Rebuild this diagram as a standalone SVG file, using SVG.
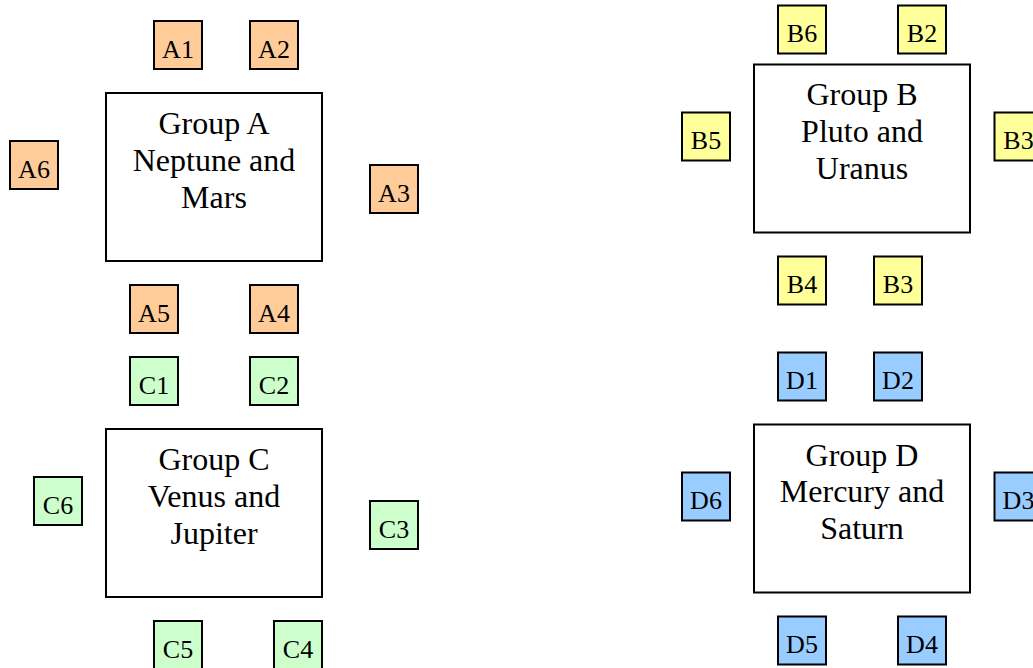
<svg xmlns="http://www.w3.org/2000/svg" width="1033" height="668" viewBox="0 0 1033 668">
<style>
  text { font-family: "Liberation Serif", "Times New Roman", serif; fill: #000; text-anchor: middle; }
  .grp { fill: #ffffff; stroke: #000; stroke-width: 2; }
  .seat { stroke: #000; stroke-width: 2; }
  .a { fill: #ffcc99; }
  .b { fill: #ffff99; }
  .c { fill: #ccffcc; }
  .d { fill: #99ccff; }
  .lbl { font-size: 26px; }
  .big { font-size: 32px; }
</style>
<rect width="1033" height="668" fill="#ffffff"/>
<g id="connectors"/>

<!-- Group A -->
<g id="groupA">
  <rect class="grp" x="106" y="93" width="216" height="168"/>
  <text class="big" x="214" y="134">Group A</text>
  <text class="big" x="214" y="170.5">Neptune and</text>
  <text class="big" x="214" y="207.5">Mars</text>
</g>
<g id="A1"><rect class="seat a" x="154" y="21" width="48" height="48"/><text class="lbl" x="178" y="57.5">A1</text></g>
<g id="A2"><rect class="seat a" x="250" y="21" width="48" height="48"/><text class="lbl" x="274" y="57.5">A2</text></g>
<g id="A3"><rect class="seat a" x="370" y="165" width="48" height="48"/><text class="lbl" x="394" y="201.5">A3</text></g>
<g id="A4"><rect class="seat a" x="250" y="285" width="48" height="48"/><text class="lbl" x="274" y="321.5">A4</text></g>
<g id="A5"><rect class="seat a" x="130" y="285" width="48" height="48"/><text class="lbl" x="154" y="321.5">A5</text></g>
<g id="A6"><rect class="seat a" x="10" y="141" width="48" height="48"/><text class="lbl" x="34" y="177.5">A6</text></g>

<!-- Group B -->
<g id="groupB">
  <rect class="grp" x="754" y="64.5" width="216" height="168"/>
  <text class="big" x="862" y="105">Group B</text>
  <text class="big" x="862" y="142">Pluto and</text>
  <text class="big" x="862" y="179">Uranus</text>
</g>
<g id="B6"><rect class="seat b" x="778" y="5.5" width="48" height="48"/><text class="lbl" x="802" y="42">B6</text></g>
<g id="B2"><rect class="seat b" x="898" y="5.5" width="48" height="48"/><text class="lbl" x="922" y="42">B2</text></g>
<g id="B5"><rect class="seat b" x="682" y="112.5" width="48" height="48"/><text class="lbl" x="706" y="149">B5</text></g>
<g id="B3a"><rect class="seat b" x="994.5" y="112.5" width="48" height="48"/><text class="lbl" x="1018.5" y="149">B3</text></g>
<g id="B4"><rect class="seat b" x="778" y="256.5" width="48" height="48"/><text class="lbl" x="802" y="293">B4</text></g>
<g id="B3b"><rect class="seat b" x="874" y="256.5" width="48" height="48"/><text class="lbl" x="898" y="293">B3</text></g>

<!-- Group C -->
<g id="groupC">
  <rect class="grp" x="106" y="429" width="216" height="168"/>
  <text class="big" x="214" y="470">Group C</text>
  <text class="big" x="214" y="506.5">Venus and</text>
  <text class="big" x="214" y="543.5">Jupiter</text>
</g>
<g id="C1"><rect class="seat c" x="130" y="357" width="48" height="48"/><text class="lbl" x="154" y="393.5">C1</text></g>
<g id="C2"><rect class="seat c" x="250" y="357" width="48" height="48"/><text class="lbl" x="274" y="393.5">C2</text></g>
<g id="C3"><rect class="seat c" x="370" y="501" width="48" height="48"/><text class="lbl" x="394" y="537.5">C3</text></g>
<g id="C4"><rect class="seat c" x="274" y="621" width="48" height="48"/><text class="lbl" x="298" y="657.5">C4</text></g>
<g id="C5"><rect class="seat c" x="154" y="621" width="48" height="48"/><text class="lbl" x="178" y="657.5">C5</text></g>
<g id="C6"><rect class="seat c" x="34" y="477" width="48" height="48"/><text class="lbl" x="58" y="513.5">C6</text></g>

<!-- Group D -->
<g id="groupD">
  <rect class="grp" x="754" y="424.5" width="216" height="168"/>
  <text class="big" x="862" y="465.5">Group D</text>
  <text class="big" x="862" y="502">Mercury and</text>
  <text class="big" x="862" y="539">Saturn</text>
</g>
<g id="D1"><rect class="seat d" x="778" y="352.5" width="48" height="48"/><text class="lbl" x="802" y="389">D1</text></g>
<g id="D2"><rect class="seat d" x="874" y="352.5" width="48" height="48"/><text class="lbl" x="898" y="389">D2</text></g>
<g id="D3"><rect class="seat d" x="994.5" y="472.5" width="48" height="48"/><text class="lbl" x="1018.5" y="509">D3</text></g>
<g id="D4"><rect class="seat d" x="898" y="616.5" width="48" height="48"/><text class="lbl" x="922" y="653">D4</text></g>
<g id="D5"><rect class="seat d" x="778" y="616.5" width="48" height="48"/><text class="lbl" x="802" y="653">D5</text></g>
<g id="D6"><rect class="seat d" x="682" y="472.5" width="48" height="48"/><text class="lbl" x="706" y="509">D6</text></g>
</svg>
